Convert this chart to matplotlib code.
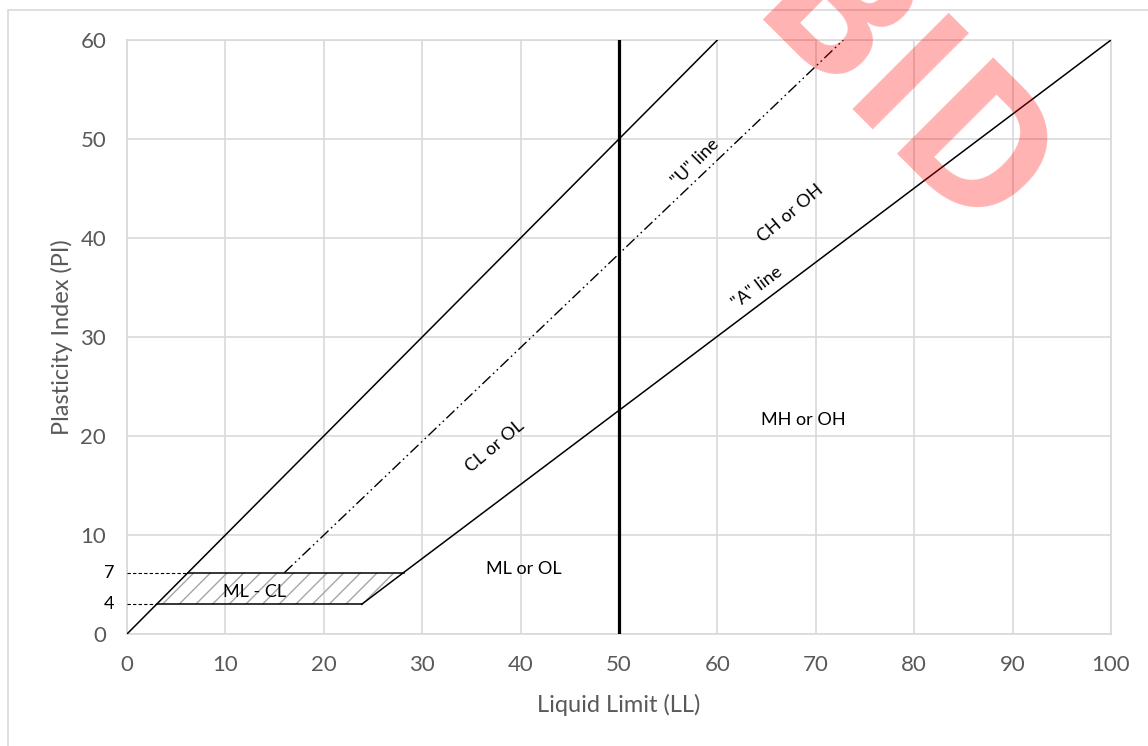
import matplotlib
matplotlib.use("Agg")
import matplotlib.pyplot as plt
from matplotlib.patches import Polygon, Rectangle

# ---- data ----
pi_ll_x = [0, 60]            # upper limit line PI = LL
pi_ll_y = [0, 60]
a_line_x = [23.85, 28.1, 100]  # "A" line
a_line_y = [3.0, 6.2, 60]
u_line_x = [16.0, 72.8]        # "U" line
u_line_y = [6.2, 60]
ll_split = 50                  # LL = 50 boundary
hatch_top = 6.2                # labelled 7
hatch_bot = 3.0                # labelled 4
hatch_top_x = [6.2, 28.1]
hatch_bot_x = [3.0, 23.85]
x_ticks = [0, 10, 20, 30, 40, 50, 60, 70, 80, 90, 100]
y_ticks = [0, 10, 20, 30, 40, 50, 60]
zone_labels = [
    ("ML - CL", 13.0, 4.2, 0),
    ("ML or OL", 40.3, 6.6, 0),
    ("MH or OH", 68.7, 21.6, 0),
    ("CL or OL", 37.4, 19.0, 40),
    ('"U" line', 57.8, 47.6, 45),
    ("CH or OH", 67.4, 42.5, 40),
    ('"A" line', 64.0, 35.0, 37),
]

W, H = 1148, 746
fig = plt.figure(figsize=(W / 100, H / 100), dpi=100)
FONT = "Lato"
GRAY = "#595959"
GRID = "#d9d9d9"

# outer chart border
fig.patches.append(Rectangle((8 / W, -0.1), 1.2, 1.1 - 10 / H, transform=fig.transFigure,
                             fill=False, edgecolor=GRID, linewidth=1.2, zorder=0))

ax = fig.add_axes([127 / W, 1 - 634 / H, (1111 - 127) / W, (634 - 40) / H])
ax.set_xlim(0, 100)
ax.set_ylim(0, 60)
ax.set_xticks(x_ticks)
ax.set_yticks(y_ticks)
ax.grid(True, color=GRID, linewidth=1.2)
ax.set_axisbelow(True)
for s in ax.spines.values():
    s.set_color(GRID)
    s.set_linewidth(1.2)
ax.tick_params(length=0, labelsize=16, labelcolor=GRAY)
ax.tick_params(axis="y", pad=15)
ax.tick_params(axis="x", pad=15)
for lab in ax.get_xticklabels() + ax.get_yticklabels():
    lab.set_fontfamily(FONT)
ax.set_xlabel("Liquid Limit (LL)", fontsize=17, color=GRAY, family=FONT, labelpad=14)
ax.set_ylabel("Plasticity Index (PI)", fontsize=17, color=GRAY, family=FONT, labelpad=5)

# hatched ML-CL zone
poly = Polygon([(hatch_bot_x[0], hatch_bot), (hatch_bot_x[1], hatch_bot),
                (hatch_top_x[1], hatch_top), (hatch_top_x[0], hatch_top)],
               closed=True, facecolor="none", edgecolor="#a6a6a6", linewidth=0, hatch="//", zorder=2)
ax.add_patch(poly)
ax.plot(hatch_top_x, [hatch_top, hatch_top], color="black", lw=1.1, zorder=3)
ax.plot(hatch_bot_x, [hatch_bot, hatch_bot], color="black", lw=1.1, zorder=3)
ax.plot([0, hatch_top_x[0]], [hatch_top, hatch_top], color="black", lw=0.8, dashes=(3, 2), zorder=3)
ax.plot([0, hatch_bot_x[0]], [hatch_bot, hatch_bot], color="black", lw=0.8, dashes=(3, 2), zorder=3)

# boundary lines
ax.plot(pi_ll_x, pi_ll_y, color="black", lw=1.1, zorder=3)
ax.plot(a_line_x, a_line_y, color="black", lw=1.1, zorder=3)
ax.plot(u_line_x, u_line_y, color="black", lw=1.0, dashes=(8, 2.5, 1.2, 2.5, 1.2, 2.5), zorder=3)
ax.plot([ll_split, ll_split], [0, 60], color="black", lw=2.3, zorder=3)

for txt, x, y, rot in zone_labels:
    ax.text(x, y, txt, fontsize=13, family=FONT, color="black", rotation=rot,
            ha="center", va="center", rotation_mode="anchor", zorder=4)

# custom y markers
ax.text(-1.3, hatch_top, "7", fontsize=13, family=FONT, ha="right", va="center", clip_on=False)
ax.text(-1.3, hatch_bot, "4", fontsize=13, family=FONT, ha="right", va="center", clip_on=False)

# watermark
fig.text(913 / W, 1 - 85 / H, "BID", fontsize=137, fontweight="bold", family="Open Sans",
         color="#ff0000", alpha=0.3, rotation=-45, ha="center", va="center_baseline",
         rotation_mode="anchor", zorder=10)

fig.savefig("out.png", dpi=100)
